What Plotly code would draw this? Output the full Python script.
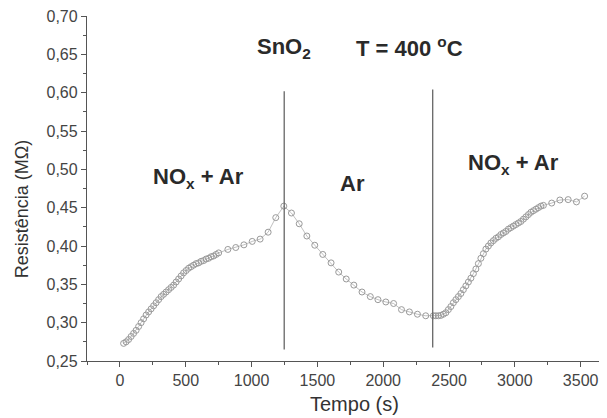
import plotly.graph_objects as go

# ---- data ----
tempo_s = [
    28, 47, 66, 85, 104, 123, 142, 161, 180, 199, 218, 237, 256, 275, 294, 313, 332, 351, 370, 389,
    408, 427, 446, 465, 484, 503, 522, 541, 560, 579, 598, 617, 636, 655, 674, 693, 712, 731, 750,
    820, 880, 942, 1005, 1065, 1126, 1184, 1245,
    1303, 1362, 1420, 1480, 1541, 1604, 1662, 1719, 1777, 1839, 1902, 1960, 2020, 2079, 2139, 2199,
    2260, 2323, 2381,
    2400, 2419, 2438, 2457, 2476, 2495, 2514, 2533, 2552, 2571, 2590, 2609, 2628, 2647, 2666, 2685,
    2704, 2723, 2742, 2761, 2780, 2799, 2818, 2837, 2856, 2875, 2894, 2913, 2932, 2951, 2970, 2989,
    3008, 3027, 3046, 3065, 3084, 3103, 3122, 3141, 3160, 3179, 3198, 3217,
    3280, 3342, 3405, 3468, 3530,
]
resistencia = [
    0.273, 0.275, 0.278, 0.282, 0.286, 0.290, 0.295, 0.300, 0.305, 0.310, 0.314, 0.318, 0.322, 0.326,
    0.330, 0.334, 0.337, 0.340, 0.343, 0.346, 0.349, 0.353, 0.357, 0.361, 0.365, 0.368, 0.371, 0.373,
    0.375, 0.377, 0.378, 0.380, 0.381, 0.383, 0.384, 0.386, 0.387, 0.389, 0.391,
    0.3955, 0.398, 0.4015, 0.406, 0.409, 0.418, 0.437, 0.452,
    0.443, 0.429, 0.413, 0.401, 0.389, 0.378, 0.366, 0.357, 0.349, 0.340, 0.334, 0.330, 0.327, 0.325,
    0.317, 0.314, 0.311, 0.309, 0.309,
    0.309, 0.309, 0.3095, 0.311, 0.313, 0.317, 0.321, 0.326, 0.330, 0.334, 0.338, 0.343, 0.348, 0.353,
    0.358, 0.364, 0.370, 0.377, 0.384, 0.390, 0.396, 0.400, 0.404, 0.407, 0.410, 0.412, 0.415, 0.417,
    0.419, 0.422, 0.424, 0.426, 0.428, 0.430, 0.432, 0.435, 0.438, 0.441, 0.444, 0.446, 0.448, 0.450,
    0.452, 0.453,
    0.456, 0.460, 0.4605, 0.4575, 0.465,
]

switch_times = [1248, 2376]
switch_bottom = [0.265, 0.2675]
switch_top = [0.602, 0.604]

x_ticks = [0, 500, 1000, 1500, 2000, 2500, 3000, 3500]
y_ticks = [0.25, 0.30, 0.35, 0.40, 0.45, 0.50, 0.55, 0.60, 0.65, 0.70]

x_title = "Tempo (s)"
y_title = "Resistência (MΩ)"

FONT = "Arial, Liberation Sans, sans-serif"
AX = "#555555"
TXT = "#333333"

fig = go.Figure()
fig.add_trace(go.Scatter(
    x=tempo_s, y=resistencia, mode="lines+markers",
    line=dict(color="#b0b0b0", width=0.8),
    marker=dict(symbol="circle-open", size=6, color="#9a9a9a", line=dict(width=1, color="#9a9a9a")),
    showlegend=False, hoverinfo="skip",
))

for t, b, tp in zip(switch_times, switch_bottom, switch_top):
    fig.add_shape(type="line", x0=t, x1=t, y0=b, y1=tp, xref="x", yref="y",
                  line=dict(color="#666666", width=1.3))

annots = [
    dict(x=598, y=0.489, text="NO<sub>x</sub> + Ar"),
    dict(x=1765, y=0.482, text="Ar"),
    dict(x=2993, y=0.507, text="NO<sub>x</sub> + Ar"),
    dict(x=1250, y=0.658, text="SnO<sub>2</sub>"),
    dict(x=2197, y=0.660, text="T = 400 <sup>o</sup>C"),
]
for a in annots:
    fig.add_annotation(x=a["x"], y=a["y"], text="<b>" + a["text"] + "</b>", showarrow=False,
                       font=dict(family=FONT, size=22, color="#2a2a2a"), xref="x", yref="y")

# axis titles
fig.add_annotation(x=0.5135, y=-0.125, xref="paper", yref="paper", text=x_title, showarrow=False,
                   font=dict(family=FONT, size=20, color=TXT), xanchor="center", yanchor="middle")
fig.add_annotation(x=-0.125, y=0.44, xref="paper", yref="paper", text=y_title, showarrow=False,
                   textangle=-90, font=dict(family=FONT, size=18, color=TXT),
                   xanchor="center", yanchor="middle")

# the page body adds an 8 px margin, so the figure is sized to fit inside it
fig.update_layout(
    width=599, height=410,
    margin=dict(l=79, r=0, t=8, b=57),
    paper_bgcolor="white", plot_bgcolor="white",
    separators=",.",
    font=dict(family=FONT, color=TXT, size=16),
    xaxis=dict(
        range=[-250, 3700], tickvals=x_ticks, ticks="outside", ticklen=5, tickwidth=1.3,
        tickcolor=AX, showline=True, linecolor=AX, linewidth=1.3, showgrid=False, zeroline=False,
        tickfont=dict(size=16, color="#444444"), automargin=False, ticklabeloverflow="allow",
        minor=dict(dtick=250, tick0=0, ticks="outside", ticklen=3, tickcolor=AX, tickwidth=1.2, showgrid=False),
    ),
    yaxis=dict(
        range=[0.25, 0.70], tickvals=y_ticks, tickformat=".2f", ticks="outside", ticklen=5,
        tickwidth=1.3, tickcolor=AX, showline=True, linecolor=AX, linewidth=1.3, showgrid=False,
        zeroline=False, tickfont=dict(size=16, color="#444444"), automargin=False,
        ticklabeloverflow="allow",
        minor=dict(dtick=0.025, tick0=0.25, ticks="outside", ticklen=3, tickcolor=AX, tickwidth=1.2, showgrid=False),
    ),
)

fig.write_html("out.html")
